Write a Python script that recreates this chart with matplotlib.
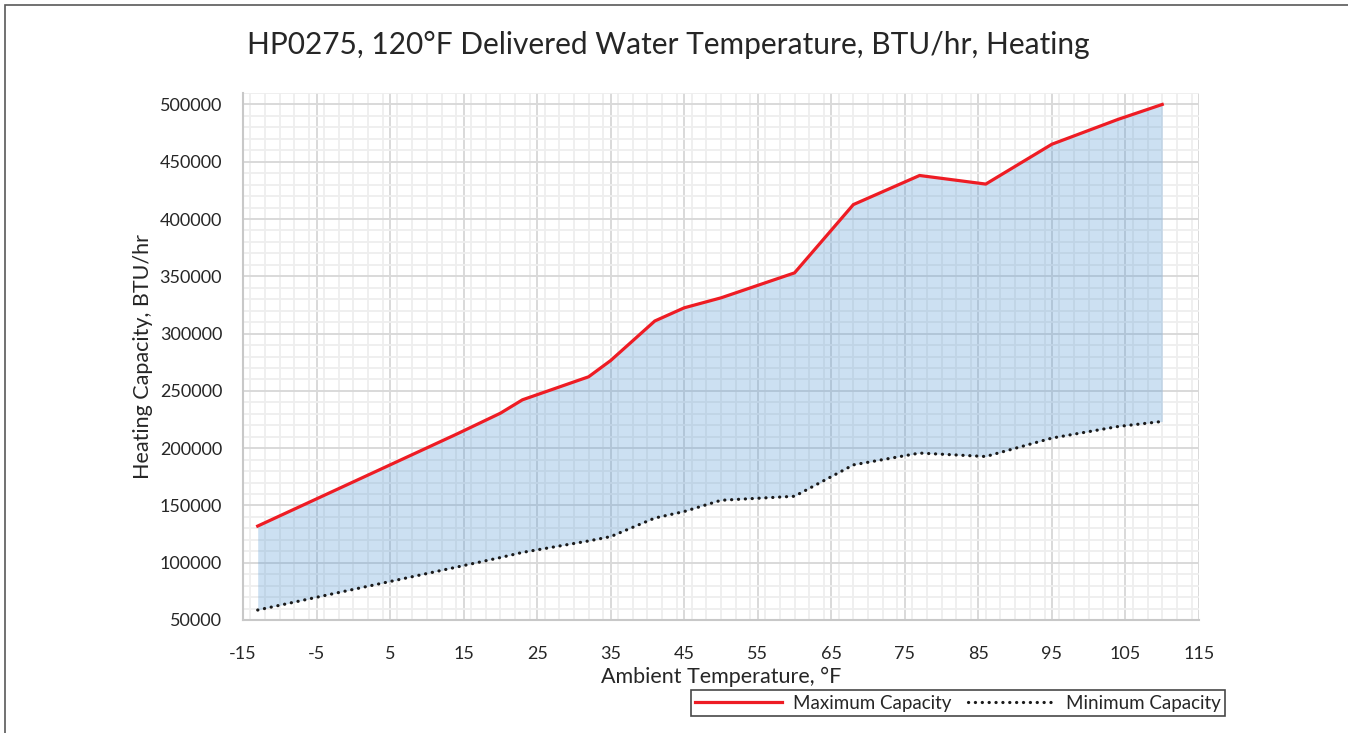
import matplotlib
matplotlib.use("Agg")
import matplotlib.pyplot as plt
from matplotlib.ticker import MultipleLocator, FixedLocator
from matplotlib.patches import Rectangle

plt.rcParams['font.family'] = ['Lato', 'DejaVu Sans']
plt.rcParams['axes.unicode_minus'] = False

# Data
ambient_temp = [-13, -4, 5, 14, 20, 23, 32, 35, 41, 45, 50, 60, 68, 77, 86, 95, 104, 110]
max_capacity = [132000, 158700, 185400, 212100, 230500, 242200, 262300, 276500, 311000,
                322500, 331200, 353000, 412600, 438000, 430500, 465300, 487000, 500000]
min_capacity = [58700, 71200, 83600, 96100, 104500, 109000, 119000, 122800, 139000,
                144700, 154500, 158000, 185400, 195700, 192700, 208800, 218900, 223300]
x_ticks = [-15, -5, 5, 15, 25, 35, 45, 55, 65, 75, 85, 95, 105, 115]
y_ticks = [50000, 100000, 150000, 200000, 250000, 300000, 350000, 400000, 450000, 500000]

title = "HP0275, 120°F Delivered Water Temperature, BTU/hr, Heating"
text_color = '#262626'

fig = plt.figure(figsize=(13.48, 7.33), dpi=100)
fig.patches.append(Rectangle((5 / 1348, -0.01), 1.0, 1.0 - 5 / 733 + 0.01,
                             transform=fig.transFigure, fill=False,
                             edgecolor='#595959', linewidth=1.2))

ax = fig.add_axes([243 / 1348, (733 - 620) / 733, 956 / 1348, 527 / 733])

ax.fill_between(ambient_temp, min_capacity, max_capacity, color='#5b9bd5', alpha=0.31,
                linewidth=0, zorder=2)
ax.plot(ambient_temp, max_capacity, color='#ee1c24', linewidth=2.3,
        label='Maximum Capacity', zorder=3, solid_joinstyle='miter')
ax.plot(ambient_temp, min_capacity, color='#1a1a1a', linewidth=2.3,
        linestyle=(0, (0.05, 2.1)), dash_capstyle='round',
        label='Minimum Capacity', zorder=3)

ax.set_xlim(-15, 115)
ax.set_ylim(50000, 510000)
ax.xaxis.set_major_locator(FixedLocator(x_ticks))
ax.xaxis.set_minor_locator(MultipleLocator(2))
ax.yaxis.set_major_locator(FixedLocator(y_ticks))
ax.yaxis.set_minor_locator(MultipleLocator(10000))

ax.grid(which='major', color='#d9d9d9', linewidth=1.4, zorder=0)
ax.grid(which='minor', color='#eeeeee', linewidth=1.3, zorder=0)
ax.set_axisbelow(True)

ax.tick_params(which='both', length=0, labelsize=13, colors=text_color)
ax.tick_params(axis='y', pad=15)
ax.tick_params(axis='x', pad=19)
for side in ['top', 'right']:
    ax.spines[side].set_visible(False)
for side in ['left', 'bottom']:
    ax.spines[side].set_color('#c8c8c8')
    ax.spines[side].set_linewidth(1.5)

ax.set_xlabel("Ambient Temperature, °F", fontsize=15.5, color=text_color, labelpad=3)
ax.set_ylabel("Heating Capacity, BTU/hr", fontsize=15.5, color=text_color, labelpad=5)

fig.text(668 / 1348, 1 - 45 / 733, title, fontsize=21.5, color=text_color,
         ha='center', va='center')

leg = fig.legend(loc='center', bbox_to_anchor=(958 / 1348, 1 - 703 / 733), ncol=2,
                 frameon=True, fancybox=False, fontsize=13.5, handlelength=4.6,
                 columnspacing=0.9, handletextpad=0.6, borderpad=0.22,
                 labelcolor=text_color)
leg.get_frame().set_edgecolor('#1a1a1a')
leg.get_frame().set_linewidth(1.2)

fig.savefig('out.png', dpi=100)
